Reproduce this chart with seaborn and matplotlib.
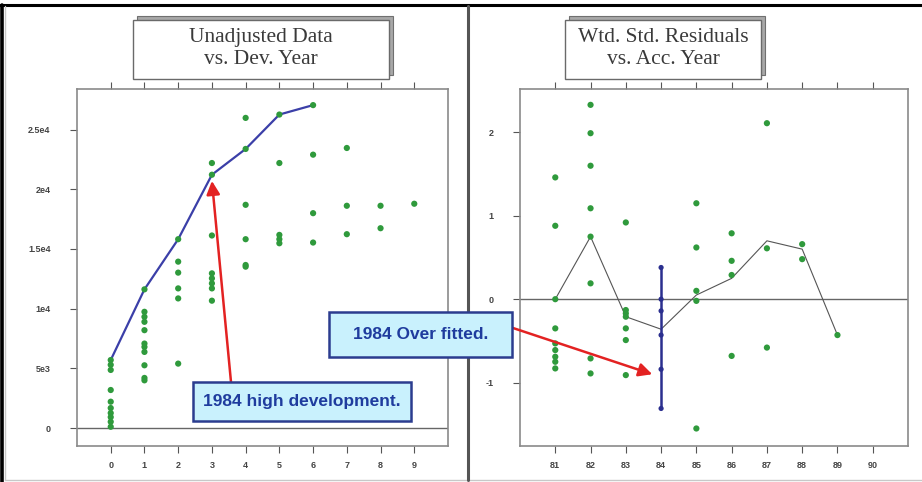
import matplotlib
matplotlib.use("Agg")
import matplotlib.pyplot as plt
import seaborn as sns
import pandas as pd
from matplotlib.patches import Rectangle
from matplotlib.lines import Line2D

# ---------------- data ----------------
dev_years = [0, 1, 2, 3, 4, 5, 6, 7, 8, 9]
unadj_by_dev = [
    [5700, 5300, 4870, 3190, 2210, 1680, 1260, 920, 530, 110],
    [11620, 9740, 9320, 8900, 8200, 7080, 6800, 6380, 5260, 4200, 4000],
    [15820, 13940, 13020, 11700, 10860, 5400],
    [21220, 22200, 16130, 12960, 12540, 12120, 11700, 10670],
    [23380, 25980, 18700, 15820, 13660, 13520],
    [26260, 22200, 16180, 15820, 15480],
    [27050, 22900, 18000, 15540],
    [23460, 18620, 16240],
    [18620, 16740],
    [18790],
]
fit_dev = [0, 1, 2, 3, 4, 5, 6]
fit_values = [5700, 11620, 15820, 21220, 23380, 26260, 27050]
left_yticks = [0, 5000, 10000, 15000, 20000, 25000]
left_yticklabels = ["0", "5e3", "1e4", "1.5e4", "2e4", "2.5e4"]

acc_years = [81, 82, 83, 84, 85, 86, 87, 88, 89, 90]
resid_by_acc = [
    [1.46, 0.88, 0.0, -0.35, -0.53, -0.61, -0.69, -0.75, -0.83],
    [2.33, 1.99, 1.60, 1.09, 0.75, 0.19, -0.71, -0.89],
    [0.92, -0.13, -0.17, -0.21, -0.35, -0.49, -0.91],
    [],
    [1.15, 0.62, 0.10, -0.02, -1.55],
    [0.79, 0.46, 0.29, -0.68],
    [2.11, 0.61, -0.58],
    [0.66, 0.48],
    [-0.43],
    [],
]
hl_acc = 84
hl_resid = [0.38, 0.0, -0.14, -0.43, -0.84, -1.31]
mean_acc = [81, 82, 83, 84, 85, 86, 87, 88, 89]
mean_resid = [0.0, 0.75, -0.21, -0.36, 0.05, 0.25, 0.70, 0.60, -0.43]
right_yticks = [-1, 0, 1, 2]

title_left = "Unadjusted Data\nvs. Dev. Year"
title_right = "Wtd. Std. Residuals\nvs. Acc. Year"
note_left = "1984 high development."
note_right = "1984 Over fitted."

# ---------------- style ----------------
sns.set_style("white")
plt.rcParams["font.family"] = ["Liberation Sans", "DejaVu Sans"]

GREEN = "#2f9a3c"
NAVY = "#2b2f8f"
BLUE = "#3b3fa8"
FRAME = "#8a8a8a"

W, H = 922, 482
fig = plt.figure(figsize=(W / 100, H / 100), dpi=100)
fig.patch.set_facecolor("white")


def fx(px):
    return px / W


def fy(py):
    return 1 - py / H


ax1 = fig.add_axes([fx(77), fy(446), fx(448) - fx(77), fy(89) - fy(446)])
ax2 = fig.add_axes([fx(520), fy(446), fx(908) - fx(520), fy(89) - fy(446)])

left_df = pd.DataFrame(
    [(d, v) for d, vals in zip(dev_years, unadj_by_dev) for v in vals],
    columns=["dev", "value"],
)
right_df = pd.DataFrame(
    [(a, r) for a, vals in zip(acc_years, resid_by_acc) for r in vals],
    columns=["acc", "resid"],
)

# left panel
ax1.axhline(0, color="#666666", lw=1.0, zorder=1)
sns.lineplot(x=fit_dev, y=fit_values, ax=ax1, color=BLUE, lw=1.6, zorder=2)
sns.scatterplot(data=left_df, x="dev", y="value", ax=ax1, color=GREEN,
                marker="o", s=20, edgecolor="none", zorder=3)
ax1.set_xlim(-1, 10)
ax1.set_ylim(-1500, 28400)
ax1.set_xticks(dev_years)
ax1.set_xticklabels([str(d) for d in dev_years])
ax1.set_yticks(left_yticks)
ax1.set_yticklabels(left_yticklabels)

# right panel
ax2.axhline(0, color="#666666", lw=1.0, zorder=1)
sns.lineplot(x=mean_acc, y=mean_resid, ax=ax2, color="#555555", lw=0.8, zorder=2)
sns.scatterplot(data=right_df, x="acc", y="resid", ax=ax2, color=GREEN,
                marker="o", s=20, edgecolor="none", zorder=3)
ax2.vlines(hl_acc, min(hl_resid), max(hl_resid), color=NAVY, lw=1.8, zorder=4)
sns.scatterplot(x=[hl_acc] * len(hl_resid), y=hl_resid, ax=ax2, color=NAVY,
                marker="o", s=14, edgecolor="none", zorder=5)
ax2.set_xlim(80, 91)
ax2.set_ylim(-1.76, 2.52)
ax2.set_xticks(acc_years)
ax2.set_xticklabels([str(a) for a in acc_years])
ax2.set_yticks(right_yticks)
ax2.set_yticklabels([str(t) for t in right_yticks])

for ax in (ax1, ax2):
    ax.set_xlabel("")
    ax.set_ylabel("")
    for s in ax.spines.values():
        s.set_color(FRAME)
        s.set_linewidth(1.2)
    ax.tick_params(axis="x", which="both", bottom=True, top=True,
                   direction="out", length=5, width=0.8, color="#555555",
                   labelsize=6.5, labelcolor="#444444", pad=6)
    ax.tick_params(axis="y", which="both", left=True, right=False,
                   direction="out", length=5, width=0.8, color="#555555",
                   labelsize=6.5, labelcolor="#444444", pad=14)
    for lab in ax.get_xticklabels() + ax.get_yticklabels():
        lab.set_fontweight("bold")


def rect(x0, x1, y0, y1, fc, ec, lw, z):
    r = Rectangle((fx(x0), fy(y1)), fx(x1 - x0), fy(y0) - fy(y1),
                  transform=fig.transFigure, facecolor=fc, edgecolor=ec,
                  lw=lw, zorder=z)
    fig.add_artist(r)


# title boxes with shadow
def title_box(x0, x1, y0, y1, text):
    rect(x0 + 4, x1 + 4, y0 - 4, y1 - 4, "#a8a8a8", "#707070", 0.8, 5)
    rect(x0, x1, y0, y1, "white", "#6a6a6a", 1.0, 6)
    fig.text(fx((x0 + x1) / 2), fy((y0 + y1) / 2 - 1), text, ha="center",
             va="center", fontsize=15.5, family="Liberation Serif",
             color="#3a3a3a", linespacing=1.25, zorder=7)

title_box(133, 389, 20, 79, title_left)
title_box(565, 761, 20, 79, title_right)

# annotation boxes
def note_box(x0, x1, y0, y1, text):
    rect(x0, x1, y0, y1, "#c9f1fd", "#2b3c8f", 1.8, 10)
    t = fig.text(fx((x0 + x1) / 2), fy((y0 + y1) / 2), text, ha="center",
                 va="center", fontsize=12.5, fontweight="bold",
                 color="#1f3c9e", zorder=11)
    return t

note_box(193, 411, 382, 421, note_left)
ax1.annotate("", xy=(3.0, 20700), xycoords="data",
             xytext=(fx(231), fy(382)), textcoords="figure fraction",
             arrowprops=dict(arrowstyle="-|>", color="#e32222", lw=1.8,
                             mutation_scale=20, shrinkA=0, shrinkB=0),
             zorder=9)

note_box(329, 512, 312, 357, note_right)
ax2.annotate("", xy=(83.75, -0.90), xycoords="data",
             xytext=(fx(513), fy(328)), textcoords="figure fraction",
             arrowprops=dict(arrowstyle="-|>", color="#e32222", lw=1.8,
                             mutation_scale=20, shrinkA=0, shrinkB=0),
             annotation_clip=False, zorder=9)

# panel frame lines
fig.add_artist(Line2D([0, 1], [fy(5), fy(5)], transform=fig.transFigure,
                      color="black", lw=2.2))
fig.add_artist(Line2D([fx(1.5), fx(1.5)], [0, fy(5)], transform=fig.transFigure,
                      color="black", lw=2.6))
fig.add_artist(Line2D([fx(5), fx(5)], [fy(480), fy(6)], transform=fig.transFigure,
                      color="#c8c8c8", lw=1.0))
fig.add_artist(Line2D([fx(5), 1], [fy(480), fy(480)], transform=fig.transFigure,
                      color="#c8c8c8", lw=1.0))
fig.add_artist(Line2D([fx(468), fx(468)], [fy(480), fy(6)],
                      transform=fig.transFigure, color="#555555", lw=2.2))

fig.savefig("out.png", dpi=100, facecolor="white")
